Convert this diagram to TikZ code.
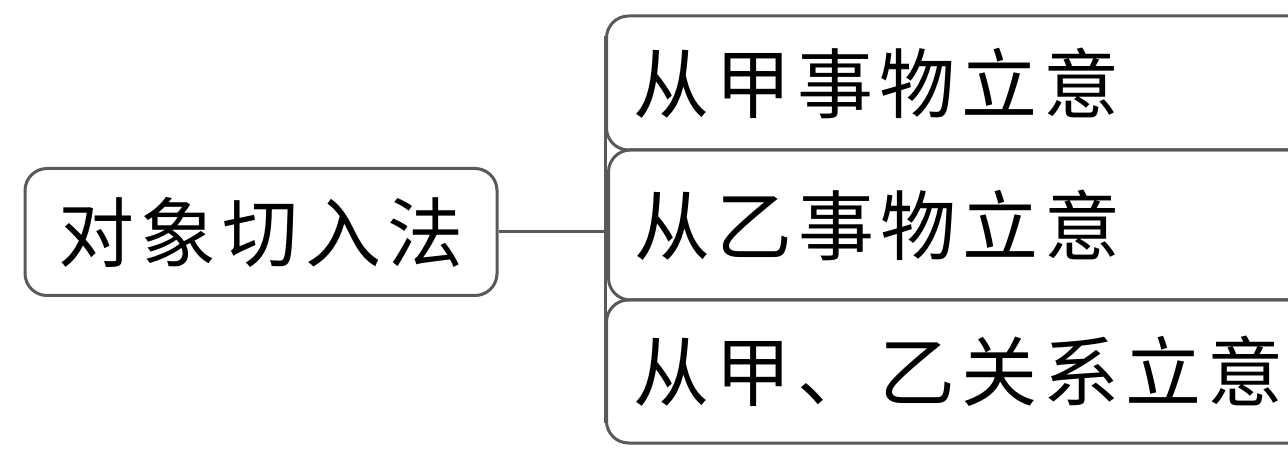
\documentclass[tikz,border=0pt]{standalone}
\usepackage{fontspec}
\newfontfamily\cjk[LetterSpace=8]{Noto Sans CJK SC}
\definecolor{edge}{HTML}{595959}
\begin{document}
\begin{tikzpicture}[x=1pt,y=1pt,
  box/.style={draw=edge,line width=3pt,rounded corners=22pt,inner sep=0pt,font=\cjk\fontsize{76}{76}\selectfont},
  leftbox/.style={box,minimum width=472pt,minimum height=127pt},
  rightbox/.style={box,minimum width=725pt,text width=672pt,align=left,anchor=west},
  link/.style={draw=edge,line width=3pt}]
\useasboundingbox (0,0) rectangle (1288,464);
\clip (0,0) rectangle (1288,464);
\node[leftbox] (root) at (261,232) {对象切入法};
\node[rightbox,minimum height=134pt] (a) at (605,381) {从甲事物立意};
\node[rightbox,minimum height=150pt,minimum width=723pt] (b) at (607,239) {从乙事物立意};
\node[rightbox,minimum height=143pt] (c) at (605,92.5) {从甲、乙关系立意};
\coordinate (j) at (605,232);
\draw[link] (root.east) -- (j);
\draw[link] ([yshift=-22pt]a.north west) -- ([yshift=22pt]c.south west);
\end{tikzpicture}
\end{document}
